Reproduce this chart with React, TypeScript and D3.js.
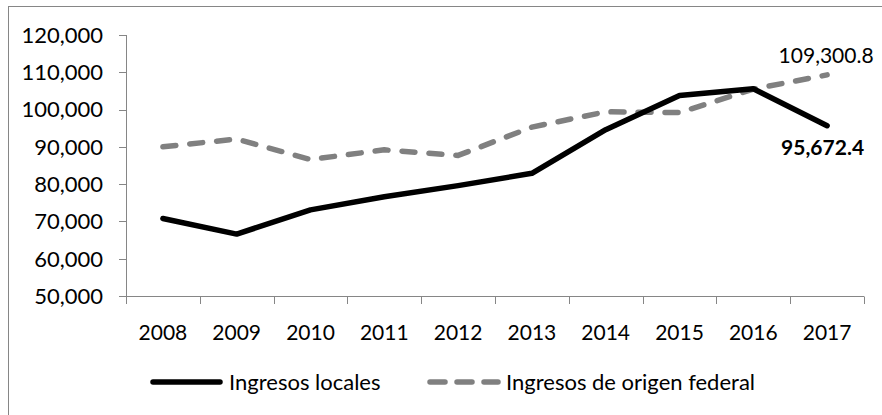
import React from "react";
import * as d3 from "d3";

const years = ["2008", "2009", "2010", "2011", "2012", "2013", "2014", "2015", "2016", "2017"];
const ingresosLocales = [70800, 66600, 73100, 76600, 79600, 82900, 94600, 103800, 105600, 95672.4];
const ingresosFederal = [90000, 92100, 86600, 89200, 87700, 95300, 99400, 99200, 105500, 109300.8];
const yTicks = [50000, 60000, 70000, 80000, 90000, 100000, 110000, 120000];
const seriesNames = ["Ingresos locales", "Ingresos de origen federal"];
const lastLocalLabel = "95,672.4";
const lastFederalLabel = "109,300.8";

const W = 882;
const H = 415;
const FONT = "Lato, 'Open Sans', sans-serif";
const AXIS = "#868686";
const GREY = "#808080";

export default function App() {
  const x = d3.scaleBand<string>().domain(years).range([126, 864]);
  const y = d3.scaleLinear().domain([50000, 120000]).range([296, 35]);
  const cx = (d: string) => (x(d) as number) + x.bandwidth() / 2;
  const fmt = d3.format(",");

  const line = d3
    .line<number>()
    .x((_, i) => cx(years[i]))
    .y((v) => y(v));

  const ticksX = d3.range(years.length + 1).map((i) => 126 + i * x.bandwidth());
  const last = years.length - 1;

  return (
    <svg
      width={W}
      height={H}
      style={{ position: "absolute", left: 0, top: 0, background: "#fff" }}
      fontFamily={FONT}
    >
      <rect x={8.5} y={6.5} width={W + 20} height={H + 20} fill="#fff" stroke={AXIS} strokeWidth={1} />
      {/* y axis */}
      <line x1={126.5} x2={126.5} y1={y(120000)} y2={y(50000)} stroke={AXIS} strokeWidth={1} />
      {yTicks.map((t) => (
        <g key={t}>
          <line x1={119} x2={126.5} y1={Math.round(y(t)) + 0.5} y2={Math.round(y(t)) + 0.5} stroke={AXIS} />
          <text x={103} y={y(t)} dy="0.36em" textAnchor="end" fontSize={22} fill="#000">
            {fmt(t)}
          </text>
        </g>
      ))}
      {/* x axis */}
      <line x1={126} x2={864} y1={296.5} y2={296.5} stroke={AXIS} strokeWidth={1} />
      {ticksX.map((tx, i) => (
        <line key={i} x1={Math.round(tx) + 0.5} x2={Math.round(tx) + 0.5} y1={296.5} y2={304} stroke={AXIS} />
      ))}
      {years.map((yr) => (
        <text key={yr} x={cx(yr)} y={340} textAnchor="middle" fontSize={21} fill="#000">
          {yr}
        </text>
      ))}
      {/* series */}
      <path
        d={line(ingresosFederal) || ""}
        fill="none"
        stroke={GREY}
        strokeWidth={5.5}
        strokeDasharray="13 14"
        strokeLinecap="round"
        strokeLinejoin="round"
      />
      <path
        d={line(ingresosLocales) || ""}
        fill="none"
        stroke="#000"
        strokeWidth={5.5}
        strokeLinecap="round"
        strokeLinejoin="round"
      />
      {/* labels */}
      <text x={cx(years[last]) - 1} y={y(ingresosFederal[last]) - 12} textAnchor="middle" fontSize={21} fill="#000">
        {lastFederalLabel}
      </text>
      <text
        x={cx(years[last]) - 4.5}
        y={y(ingresosLocales[last]) + 29.5}
        textAnchor="middle"
        fontSize={21}
        fontWeight="bold"
        fill="#000"
      >
        {lastLocalLabel}
      </text>
      {/* legend */}
      <line x1={153} x2={220} y1={382} y2={382} stroke="#000" strokeWidth={5.5} strokeLinecap="round" />
      <text x={229} y={389.5} fontSize={22} fill="#000">
        {seriesNames[0]}
      </text>
      <line
        x1={430}
        x2={498}
        y1={382}
        y2={382}
        stroke={GREY}
        strokeWidth={5.5}
        strokeDasharray="15 12"
        strokeLinecap="round"
      />
      <text x={506} y={389.5} fontSize={22} fill="#000">
        {seriesNames[1]}
      </text>
    </svg>
  );
}
